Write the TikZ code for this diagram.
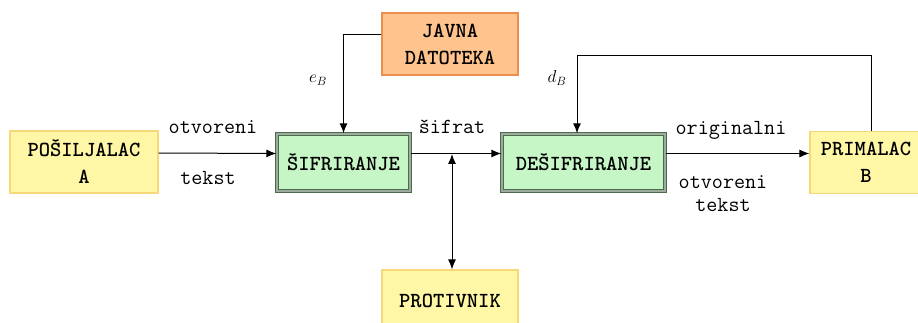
\documentclass[tikz,border=0pt]{standalone}
\usepackage{fontspec}
\usetikzlibrary{calc,arrows.meta}
\definecolor{zutaF}{HTML}{FFF7A6}
\definecolor{zutaD}{HTML}{F6D87A}
\definecolor{narF}{HTML}{FFC38E}
\definecolor{narD}{HTML}{EE8E4E}
\definecolor{zelF}{HTML}{C6F5C6}
\definecolor{zelD}{HTML}{4C6A4C}

\begin{document}
\begin{tikzpicture}[
        x=1pt, y=-1pt,
        every node/.style={font=\fontsize{21.5}{24}\selectfont\ttfamily, inner sep=2pt},
        blok/.style = {rectangle, draw, line width=1.2pt, align=center, font=\fontsize{21.5}{27}\selectfont\ttfamily\bfseries},
        ucesnik/.style = {blok, fill=zutaF, draw=zutaD},
        baza/.style = {blok, fill=narF, draw=narD},
        obrada/.style = {blok, fill=zelF, draw=zelD, line width=1.4pt, double=zelD!55, double distance=1.6pt},
        veza/.style={draw, line width=1pt, -{Latex[length=10pt,width=8pt]}}
    ]
 \useasboundingbox (0,0) rectangle (918,323);
 % blokovi
 \node[ucesnik, minimum width=148pt, minimum height=62pt] (posiljalac) at (84,162) {POŠILJALAC\\A};
 \node[obrada, minimum width=133pt, minimum height=57pt] (sifriranje) at (343.5,162.5) {ŠIFRIRANJE};
 \node[obrada, minimum width=163pt, minimum height=57pt] (desifriranje) at (583.5,162.5) {DEŠIFRIRANJE};
 \node[ucesnik, minimum width=112pt, minimum height=62pt] (primalac) at (866,162.5) {PRIMALAC\\B};
 \node[baza, minimum width=136pt, minimum height=62pt] (javna) at (450,44) {JAVNA\\DATOTEKA};
 \node[ucesnik, minimum width=136pt, minimum height=62pt] (protivnik) at (450,301) {PROTIVNIK};
 \coordinate (tap) at (452,153);
 \coordinate (gore) at (577,56);
 % veze
 \draw[veza] ([yshift=9pt]posiljalac.east) -- ([yshift=9pt]sifriranje.west);
 \draw[veza] ([yshift=9pt]sifriranje.east) -- ([yshift=9pt]desifriranje.west);
 \draw[veza] ([yshift=9pt]desifriranje.east) -- ([yshift=9pt]primalac.west);
 \draw[veza] ([yshift=9pt]javna.west) -| (sifriranje.north);
 \draw[veza] ([xshift=5pt]primalac.north) |- (gore) -- (gore |- desifriranje.north);
 \draw[veza, {Latex[length=10pt,width=8pt]}-{Latex[length=10pt,width=8pt]}] ([yshift=-1pt]tap) -- (tap |- protivnik.north);
 % oznake
 \node (otv1) at (213,127) {otvoreni};
 \node (tek1) at (208,178) {tekst};
 \node (sifrat) at (452,127) {šifrat};
 \node (orig) at (731,130) {originalni};
 \node (otv2) at (723,182) {otvoreni};
 \node (tek2) at (723,205) {tekst};
 \node[font=\fontsize{17}{20}\selectfont] (eb) at (318,80) {$e_B$};
 \node[font=\fontsize{17}{20}\selectfont] (db) at (557,78) {$d_B$};
\end{tikzpicture}
\end{document}
